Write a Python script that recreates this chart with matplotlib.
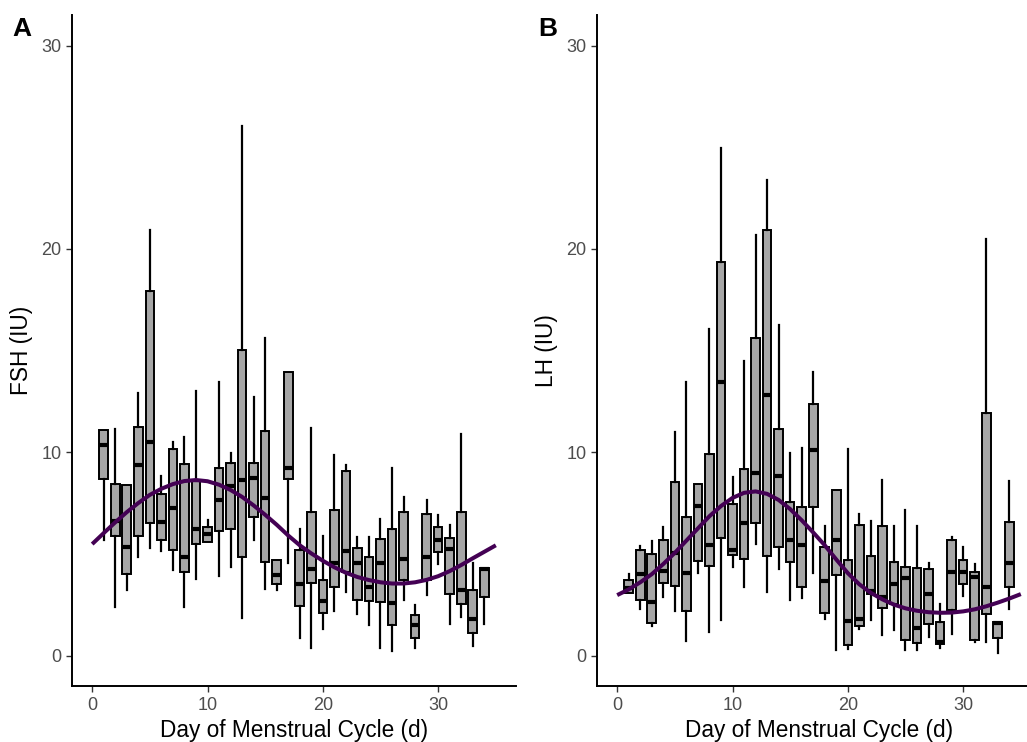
import matplotlib
matplotlib.use("Agg")
import matplotlib.pyplot as plt

plt.rcParams['font.family'] = ['Liberation Sans', 'DejaVu Sans']

days = list(range(1, 35))

# FSH (panel A): lower whisker, Q1, median, Q3, upper whisker
fsh_lo  = [5.66, 2.39, 3.21, 4.84, 5.30, 5.12, 4.21, 2.39, 3.75, 5.57, 3.93, 4.35, 1.84, 5.66, 3.26, 3.21, 4.57,
           0.84, 0.38, 1.30, 2.20, 3.11, 2.02, 1.51, 0.38, 0.24, 2.75, 0.35, 2.97, 4.48, 1.53, 1.88, 0.48, 1.57]
fsh_q1  = [8.66, 5.88, 4.02, 5.88, 6.54, 5.66, 5.21, 4.12, 5.48, 5.57, 6.12, 6.21, 4.84, 6.81, 4.62, 3.51, 8.67,
           2.44, 3.57, 2.08, 3.39, 4.12, 2.75, 2.66, 2.62, 1.48, 3.70, 0.88, 3.70, 5.08, 3.02, 2.53, 1.11, 2.90]
fsh_med = [10.36, 6.63, 5.35, 9.39, 10.49, 6.57, 7.26, 4.84, 6.21, 5.99, 7.63, 8.34, 8.63, 8.72, 7.76, 3.97, 9.21,
           3.51, 4.26, 2.66, 4.53, 5.12, 4.57, 3.39, 4.53, 2.57, 4.75, 1.48, 4.84, 5.66, 5.26, 3.24, 1.79, 4.24]
fsh_q3  = [11.07, 8.45, 8.39, 11.25, 17.91, 7.94, 10.16, 9.43, 8.57, 6.30, 9.21, 9.45, 15.04, 9.48, 11.03, 4.70, 13.94,
           5.21, 7.08, 3.70, 7.15, 9.08, 5.30, 4.84, 5.72, 6.21, 7.08, 1.99, 6.97, 6.30, 5.79, 7.08, 3.21, 4.30]
fsh_hi  = [11.07, 11.12, 8.39, 12.89, 20.91, 8.81, 10.48, 10.76, 13.00, 6.66, 13.45, 9.98, 26.05, 12.72, 15.62, 4.70, 13.94,
           6.21, 11.21, 5.88, 9.85, 9.39, 5.81, 5.84, 6.70, 9.21, 7.81, 2.48, 7.66, 6.90, 6.43, 10.89, 4.57, 4.30]

# LH (panel B)
lh_lo  = [3.06, 2.30, 1.44, 2.90, 2.20, 0.71, 4.08, 1.17, 1.75, 4.35, 3.35, 5.48, 3.11, 4.24, 2.75, 2.84, 4.08,
          1.80, 0.29, 0.33, 1.30, 1.75, 1.02, 1.26, 0.29, 0.29, 0.93, 0.35, 1.06, 2.93, 0.66, 0.66, 0.11, 2.29]
lh_q1  = [3.06, 2.75, 1.62, 3.57, 3.42, 2.20, 4.66, 4.39, 5.79, 4.93, 4.75, 6.54, 4.90, 5.33, 4.61, 3.39, 7.30,
          2.11, 3.97, 0.51, 1.44, 3.02, 2.33, 2.51, 0.78, 0.60, 1.53, 0.57, 2.24, 3.53, 0.75, 2.02, 0.88, 3.39]
lh_med = [3.33, 4.02, 2.62, 4.17, 5.02, 4.08, 7.36, 5.44, 13.45, 5.21, 6.54, 8.97, 12.80, 8.81, 5.66, 5.44, 10.12,
          3.66, 5.70, 1.71, 1.79, 3.15, 2.88, 3.51, 3.81, 1.33, 3.02, 0.66, 4.12, 4.12, 3.84, 3.39, 1.62, 4.53]
lh_q3  = [3.71, 5.21, 4.97, 5.70, 8.54, 6.81, 8.45, 9.90, 19.37, 7.43, 9.16, 15.62, 20.91, 11.16, 7.57, 7.30, 12.36,
          5.35, 8.16, 4.70, 6.43, 4.88, 6.35, 4.61, 4.35, 4.30, 4.24, 1.66, 5.66, 4.72, 4.12, 11.94, 1.66, 6.57]
lh_hi  = [4.02, 5.39, 5.63, 6.34, 10.98, 13.45, 8.45, 16.04, 24.95, 8.76, 14.49, 20.68, 23.37, 16.25, 9.94, 10.21, 13.94,
          6.39, 8.16, 10.16, 6.94, 6.61, 8.63, 6.39, 7.17, 6.39, 4.53, 2.53, 5.81, 5.33, 4.48, 20.50, 1.66, 8.58]

# Smooth fitted curves
curve_days = list(range(0, 36))
fsh_curve = [5.48, 6.02, 6.55, 7.05, 7.50, 7.90, 8.20, 8.43, 8.58, 8.63, 8.57, 8.40, 8.14, 7.80, 7.38, 6.92,
             6.43, 5.90, 5.42, 5.02, 4.66, 4.34, 4.07, 3.86, 3.71, 3.60, 3.54, 3.54, 3.60, 3.72, 3.90, 4.15,
             4.45, 4.78, 5.10, 5.42]
lh_curve = [2.97, 3.25, 3.60, 4.00, 4.50, 5.05, 5.65, 6.25, 6.85, 7.35, 7.75, 8.00, 8.07, 7.95, 7.65, 7.20,
            6.65, 6.05, 5.42, 4.72, 4.05, 3.50, 3.08, 2.76, 2.50, 2.32, 2.20, 2.13, 2.10, 2.11, 2.17, 2.27,
            2.42, 2.60, 2.80, 3.02]

x_ticks = [0, 10, 20, 30]
y_ticks = [0, 10, 20, 30]

W, H = 1027, 742
fig = plt.figure(figsize=(W / 100, H / 100), dpi=100)

def make_panel(left_px, lo, q1, med, q3, hi, curve, ylabel, tag, tag_x):
    ax = fig.add_axes([left_px / W, (H - 686) / H, 444 / W, 671 / H])
    stats = []
    for d, a, b, c, e, f in zip(days, lo, q1, med, q3, hi):
        stats.append(dict(whislo=a, q1=b, med=c, q3=e, whishi=f, fliers=[]))
    ax.bxp(stats, positions=days, widths=0.75, patch_artist=True, showcaps=False,
           showfliers=False, manage_ticks=False,
           boxprops=dict(facecolor='#A6A6A6', edgecolor='black', linewidth=1.4),
           whiskerprops=dict(color='black', linewidth=1.6),
           medianprops=dict(color='black', linewidth=3.0, solid_capstyle='butt'))
    ax.plot(curve_days, curve, color='#440154', linewidth=2.9, zorder=5, solid_capstyle='butt')
    ax.set_xlim(-1.75, 36.75)
    ax.set_ylim(-1.5, 31.5)
    ax.set_xticks(x_ticks)
    ax.set_yticks(y_ticks)
    for s in ['top', 'right']:
        ax.spines[s].set_visible(False)
    for s in ['left', 'bottom']:
        ax.spines[s].set_linewidth(1.4)
        ax.spines[s].set_color('black')
    ax.tick_params(axis='both', length=4.2, width=1.0, color='#333333', labelcolor='#4D4D4D',
                   labelsize=13, pad=3.5)
    ax.set_xlabel('Day of Menstrual Cycle (d)', fontsize=16.3, color='black', labelpad=4)
    ax.set_ylabel(ylabel, fontsize=16.3, color='black', labelpad=6)
    fig.text(tag_x / W, 1 - 36 / H, tag, fontsize=19, fontweight='bold', va='baseline', ha='left')
    return ax

make_panel(72, fsh_lo, fsh_q1, fsh_med, fsh_q3, fsh_hi, fsh_curve, 'FSH (IU)', 'A', 12)
make_panel(597, lh_lo, lh_q1, lh_med, lh_q3, lh_hi, lh_curve, 'LH (IU)', 'B', 538)

fig.savefig('out.png', dpi=100)
